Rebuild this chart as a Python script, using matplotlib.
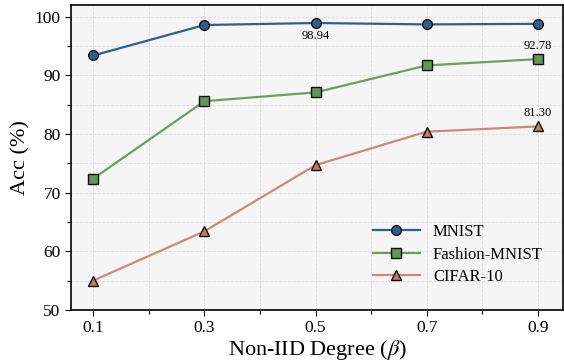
import matplotlib
matplotlib.use("Agg")
import matplotlib.pyplot as plt
from matplotlib.ticker import MultipleLocator

plt.rcParams['font.family'] = ['Liberation Serif', 'DejaVu Serif']
plt.rcParams['mathtext.fontset'] = 'stix'

beta = [0.1, 0.3, 0.5, 0.7, 0.9]
mnist = [93.4, 98.6, 98.94, 98.7, 98.8]
fmnist = [72.4, 85.6, 87.1, 91.7, 92.78]
cifar = [55.0, 63.4, 74.7, 80.4, 81.30]

fig = plt.figure(figsize=(5.64, 3.62), dpi=100)
ax = fig.add_axes([0.126, 0.144, 0.872, 0.842])
ax.set_facecolor('#f5f5f5')

ax.plot(beta, mnist, '-o', color='#2f5f8f', lw=1.6, ms=7, mfc='#2f5f8f', mec='#111111', mew=1.0, label='MNIST')
ax.plot(beta, fmnist, '-s', color='#6f9e5c', lw=1.6, ms=7, mfc='#64945a', mec='#111111', mew=1.0, label='Fashion-MNIST')
ax.plot(beta, cifar, '-^', color='#c98a7c', lw=1.6, ms=7, mfc='#c47a6c', mec='#111111', mew=1.0, label='CIFAR-10')

ax.annotate('98.94', (beta[2], mnist[2]), xytext=(0, -9), textcoords='offset points', ha='center', va='center', fontsize=9)
ax.annotate('92.78', (beta[4], fmnist[4]), xytext=(0, 9.5), textcoords='offset points', ha='center', va='center', fontsize=9)
ax.annotate('81.30', (beta[4], cifar[4]), xytext=(0, 9.5), textcoords='offset points', ha='center', va='center', fontsize=9)

ax.set_xlim(0.06, 0.945)
ax.set_ylim(50, 102)
ax.set_xticks(beta)
ax.set_xticklabels(['0.1', '0.3', '0.5', '0.7', '0.9'])
ax.xaxis.set_minor_locator(MultipleLocator(0.1))
ax.yaxis.set_major_locator(MultipleLocator(10))
ax.yaxis.set_minor_locator(MultipleLocator(5))
ax.tick_params(axis='both', which='major', labelsize=12.5, direction='out', length=4, width=0.8)
ax.tick_params(axis='both', which='minor', direction='out', length=3, width=0.8)
ax.grid(True, which='both', linestyle='--', color='#dddddd', lw=0.6)
ax.set_axisbelow(True)
for s in ax.spines.values():
    s.set_linewidth(1.2)

ax.set_xlabel(r'Non-IID Degree ($\beta$)', fontsize=16, labelpad=1)
ax.set_ylabel('Acc (%)', fontsize=16, labelpad=3)

leg = ax.legend(loc='lower right', fontsize=12, frameon=False, handlelength=2.8,
                bbox_to_anchor=(1.0, 0.015), borderaxespad=0.8, labelspacing=0.4)

fig.savefig('out.png', dpi=100)
